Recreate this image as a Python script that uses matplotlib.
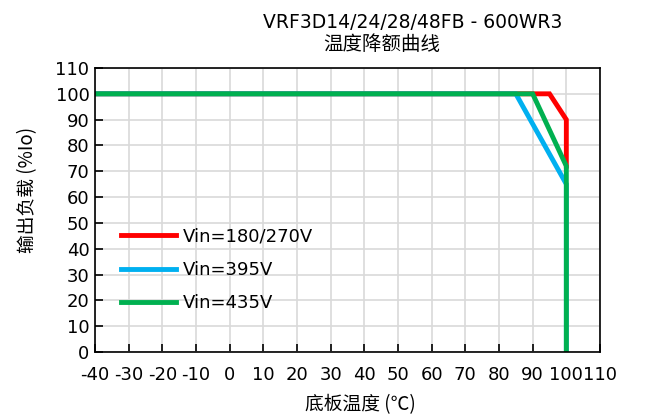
import matplotlib
matplotlib.use("Agg")
import matplotlib.pyplot as plt

plt.rcParams['font.family'] = ['DejaVu Sans', 'Noto Sans CJK SC']
plt.rcParams['axes.unicode_minus'] = False

red_x = [-40, 95, 100, 100]
red_y = [100, 100, 90, 72]
blue_x = [-40, 85, 100, 100]
blue_y = [100, 100, 65, 0]
green_x = [-40, 90, 100, 100]
green_y = [100, 100, 72, 0]
labels = ["Vin=180/270V", "Vin=395V", "Vin=435V"]
xticks = list(range(-40, 111, 10))
yticks = list(range(0, 111, 10))

fig = plt.figure(figsize=(6.57, 4.19), dpi=100)
ax = fig.add_axes([95/657, 1-352/419, 505/657, 284/419])

ax.plot(red_x, red_y, color='#ff0000', lw=3.5, label=labels[0], solid_joinstyle='miter')
ax.plot(blue_x, blue_y, color='#00b0f0', lw=3.5, label=labels[1], solid_joinstyle='miter')
ax.plot(green_x, green_y, color='#00b050', lw=3.5, label=labels[2], solid_joinstyle='miter')

ax.set_xlim(-40, 110)
ax.set_ylim(0, 110)
ax.set_xticks(xticks)
ax.set_yticks(yticks)
ax.tick_params(direction='in', length=6, width=1.2, labelsize=13, pad=4)
ax.tick_params(axis='x', pad=10)
ax.grid(True, color='#d9d9d9', lw=1.2)
ax.set_axisbelow(True)
for s in ax.spines.values():
    s.set_linewidth(1.2)
    s.set_color('black')

leg = ax.legend(loc='upper left', bbox_to_anchor=(0.02, 0.495), frameon=False,
                fontsize=13, handlelength=3.0, labelspacing=0.85, handletextpad=0.4)

fig.text(413/657, 1-22/419, "VRF3D14/24/28/48FB - 600WR3", ha='center', va='center', fontsize=13.5)
fig.text(382/657, 1-45/419, "温度降额曲线", ha='center', va='center', fontsize=14,
         family=['Noto Sans CJK SC', 'DejaVu Sans'])
fig.text(360/657, 1-405/419, "底板温度 (℃)", ha='center', va='center', fontsize=13.5,
         family=['Noto Sans CJK SC', 'DejaVu Sans'])
fig.text(28/657, 1-190/419, "输出负载 (%Io)", ha='center', va='center', fontsize=13.5,
         rotation=90, family=['Noto Sans CJK SC', 'DejaVu Sans'])

fig.savefig("out.png", dpi=100)
